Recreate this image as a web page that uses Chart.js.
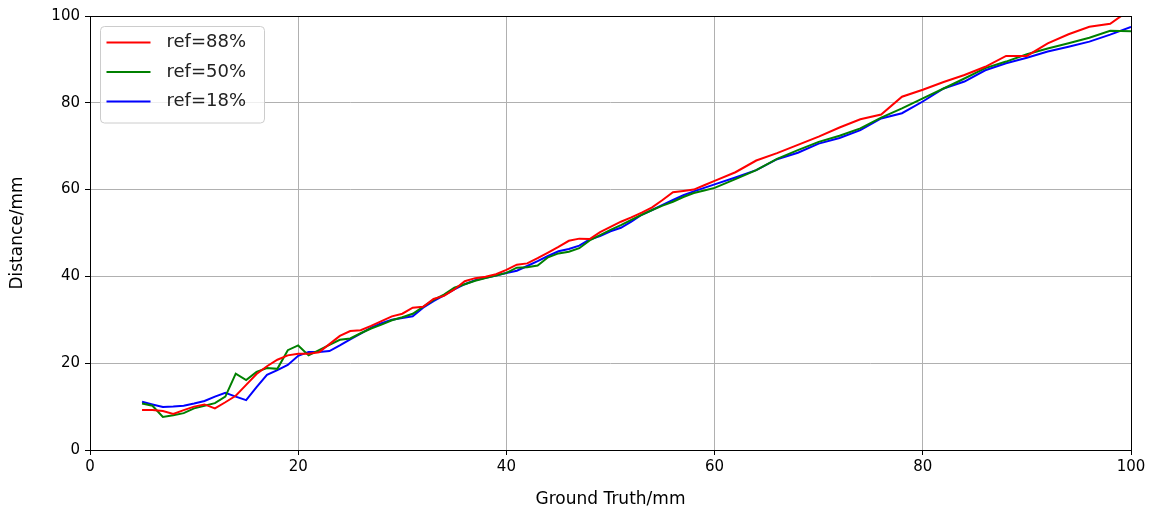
<!DOCTYPE html>
<html>
<head>
<meta charset="utf-8">
<script src="https://cdn.jsdelivr.net/npm/chart.js@4/dist/chart.umd.min.js"></script>
<style>
html,body{margin:0;padding:0;background:#fff;}
#wrap{width:1156px;height:516px;position:relative;}
</style>
</head>
<body>
<div id="wrap"><canvas id="c" width="1156" height="516"></canvas></div>
<script>
// Ground truth (mm)
const groundTruth = [5,6,7,8,9,10,11,12,13,14,15,16,17,18,19,20,21,22,23,24,25,26,27,28,29,30,
  31,32,33,34,35,36,37,38,39,40,41,42,43,44,45,46,47,48,49,50,51,52,53,54,55,56,57,58,59,60,
  62,64,66,68,70,72,74,76,78,80,82,84,86,88,90,92,94,96,98,100];

const ref88 = [9.2,9.2,9.0,8.3,9.2,10.0,10.5,9.6,11.0,12.5,15.0,17.5,19.3,20.8,21.8,22.2,22.2,22.5,24.4,26.3,
  27.4,27.6,28.6,29.7,30.8,31.4,32.8,33.0,34.8,35.5,37.0,38.9,39.6,39.9,40.5,41.5,42.7,43.0,44.2,45.5,
  46.8,48.2,48.7,48.6,50.2,51.4,52.6,53.6,54.7,55.9,57.6,59.4,59.7,60.0,61.0,62.0,
  64.0,66.7,68.4,70.3,72.2,74.3,76.2,77.3,81.4,83.0,84.8,86.4,88.3,90.8,90.8,93.7,95.8,97.5,98.2,101.6];

const ref50 = [10.7,10.2,7.6,8.0,8.5,9.6,10.2,10.8,12.3,17.6,16.1,18.0,18.9,18.7,23.0,24.1,21.8,23.0,24.2,25.4,
  25.7,26.9,28.0,28.9,29.9,30.6,31.4,33.0,34.6,35.8,37.4,38.2,39.0,39.6,40.2,40.8,42.0,42.1,42.5,44.4,
  45.3,45.7,46.5,48.3,49.5,50.7,51.8,53.0,54.2,55.3,56.3,57.2,58.3,59.2,59.8,60.4,
  62.4,64.5,67.1,69.1,71.0,72.4,74.1,76.6,78.7,81.0,83.3,85.6,88.0,89.5,91.2,92.5,93.7,95.0,96.6,96.5];

const ref18 = [11.1,10.5,9.9,10.0,10.2,10.7,11.3,12.3,13.2,12.3,11.5,14.5,17.3,18.4,19.6,21.7,22.6,22.6,22.8,24.1,
  25.5,26.8,28.2,29.2,30.0,30.4,30.8,32.8,34.3,35.6,37.0,38.2,39.1,39.7,40.2,40.8,41.3,42.4,43.5,44.7,
  45.8,46.3,47.1,48.5,49.3,50.4,51.2,52.6,54.2,55.3,56.5,57.6,58.7,59.6,60.4,61.2,
  62.8,64.5,67.0,68.5,70.6,71.9,73.7,76.4,77.6,80.3,83.3,84.9,87.5,89.1,90.4,91.8,92.9,94.1,95.7,97.5];

const seriesLabels = ['ref=88%','ref=50%','ref=18%'];
const seriesColors = ['#ff0000','#008000','#0000ff'];
const xTicks = [0,20,40,60,80,100];
const yTicks = [0,20,40,60,80,100];

const FONT = 'DejaVu Sans';
const TICK_FS = 15;
const LABEL_FS = 17;
const LEGEND_FS = 18;

function pts(vals){ return groundTruth.map((x,i)=>({x:x,y:vals[i]})); }

const frameAndLegend = {
  id:'frameAndLegend',
  afterDatasetsDraw(chart){
    const {ctx, chartArea:a} = chart;
    ctx.save();
    ctx.strokeStyle='#000'; ctx.lineWidth=1;
    ctx.strokeRect(Math.round(a.left)+0.5, Math.round(a.top)+0.5, Math.round(a.right-a.left), Math.round(a.bottom-a.top));
    // legend
    ctx.font = LEGEND_FS+'px "'+FONT+'"';
    const ds = chart.data.datasets;
    let tw = 0; ds.forEach(d=>{tw=Math.max(tw,ctx.measureText(d.label).width);});
    const bx = a.left+10.5, by = a.top+10.5;
    const rowH = 29.5;
    const bw = Math.max(164, 66 + tw + 12), bh = rowH*ds.length + 8;
    ctx.fillStyle='rgba(255,255,255,0.8)';
    ctx.strokeStyle='#cccccc';
    ctx.beginPath();
    if (ctx.roundRect) ctx.roundRect(bx,by,bw,bh,4); else ctx.rect(bx,by,bw,bh);
    ctx.fill(); ctx.stroke();
    ds.forEach((d,i)=>{
      const cy = by + 16 + i*rowH;
      ctx.strokeStyle=d.borderColor; ctx.lineWidth=2;
      ctx.beginPath(); ctx.moveTo(bx+6, cy); ctx.lineTo(bx+50, cy); ctx.stroke();
      ctx.fillStyle='#222'; ctx.textBaseline='middle'; ctx.textAlign='left';
      ctx.fillText(d.label, bx+66, cy);
    });
    ctx.restore();
  }
};

new Chart(document.getElementById('c'), {
  type:'line',
  data:{
    datasets:[ref88,ref50,ref18].map((v,i)=>({
      label:seriesLabels[i], data:pts(v), borderColor:seriesColors[i], backgroundColor:seriesColors[i],
      borderWidth:2, pointRadius:0, tension:0, fill:false
    }))
  },
  options:{
    responsive:false, animation:false,
    layout:{padding:{left:0,right:25,top:16,bottom:0}},
    plugins:{legend:{display:false}, tooltip:{enabled:false}},
    scales:{
      x:{
        type:'linear', min:0, max:100,
        afterBuildTicks(s){ s.ticks = xTicks.map(v=>({value:v})); },
        afterFit(s){ s.height = 66; },
        grid:{color:'#b0b0b0', lineWidth:1, tickColor:'#000', tickLength:5, drawTicks:true},
        border:{display:false},
        ticks:{color:'#000', font:{family:FONT,size:TICK_FS}, padding:3, maxRotation:0, autoSkip:false},
        title:{display:true, text:'Ground Truth/mm', color:'#000', font:{family:FONT,size:LABEL_FS}, padding:{top:0,bottom:6}}
      },
      y:{
        type:'linear', min:0, max:100,
        afterBuildTicks(s){ s.ticks = yTicks.map(v=>({value:v})); },
        afterFit(s){ s.width = 90; },
        grid:{color:'#b0b0b0', lineWidth:1, tickColor:'#000', tickLength:5, drawTicks:true},
        border:{display:false},
        ticks:{color:'#000', font:{family:FONT,size:TICK_FS}, padding:5, autoSkip:false},
        title:{display:true, text:'Distance/mm', color:'#000', font:{family:FONT,size:LABEL_FS}, padding:{top:7,bottom:0}}
      }
    }
  },
  plugins:[frameAndLegend]
});
</script>
</body>
</html>
